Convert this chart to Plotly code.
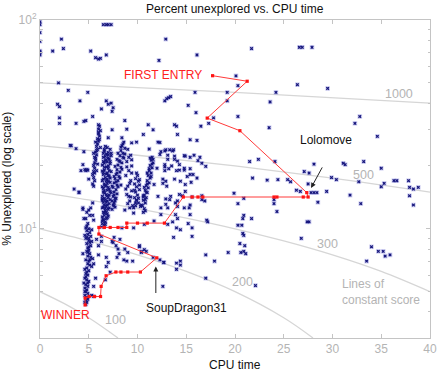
import math
import plotly.graph_objects as go

# ---------------- data ----------------
# scattered entries (CPU time, % unexplored)
sparse_cpu = [0, 0, 0, 0, 0, 0, 0, 6.5, 6.8, 7.0, 7.3, 2.2, 1.3, 2.4, 5.2, 5.7, 6.0, 6.2, 6.8,
              12.9, 12.2, 16.1, 1.9, 2.9, 4.1, 4.9, 1.8, 2.0, 2.0, 2.0, 3.7, 4.7, 5.4, 6.3,
              6.8, 7.0, 7.3, 7.5, 7.4, 6.0, 8.7, 8.9, 11.1, 12.8, 13.0, 13.2, 13.4,
              15.2, 15.9, 16.0, 14.0, 16.5, 17.3, 17.8, 19.2, 19.2,
              21.7, 26.6, 26.9, 27.9, 20.1, 20.3, 24.2, 26.4, 29.5, 23.6, 20.3, 23.5, 32.8, 32.3, 34.6,
              21.5, 22.4, 24.1, 28.1, 27.1, 27.6, 31.1, 31.3, 33.2, 35.0,
              29.9, 30.4, 32.7, 35.3, 36.3, 36.6, 37.8, 37.9, 38.3, 38.8, 35.0,
              21.8, 23.3, 24.4, 25.4, 25.7, 26.3, 26.7, 27.5, 27.8, 28.1, 28.4, 29.4, 31.8, 37.9, 19.9,
              14.6, 15.6, 16.6, 16.6, 16.9, 20.3, 20.9, 24.0, 24.0, 24.3, 28.5, 32.9, 38.3,
              27.4, 27.6, 26.8, 20.9, 20.8, 21.7, 20.3, 20.7, 20.8, 20.9, 20.5, 21.0, 20.6, 20.9, 21.1,
              19.3, 17.9, 17.0, 17.2, 15.2, 14.0, 13.7, 14.0, 14.4, 14.4, 14.0, 17.0, 22.1,
              34.0, 34.7, 35.2, 35.4, 35.9, 33.5,
              11.6, 12.3, 15.4, 16.1, 13.8, 14.9, 15.4, 16.4, 16.2, 16.6, 12.4, 12.9, 13.3, 13.7,
              12.0, 12.8, 13.2, 14.3, 14.8, 15.4, 15.4, 15.7, 14.8, 15.8, 17.0, 15.1, 16.1, 15.5, 14.9,
              14.3, 13.5, 14.0, 13.1, 12.8, 12.6, 13.0, 14.9, 13.1, 14.1, 15.4, 17.1,
              7.4, 7.8, 8.0, 8.7, 9.0, 10.2, 10.4, 10.9, 11.6, 8.1, 8.6, 12.7, 12.3, 12.6, 6.3, 7.6, 8.2,
              5.4, 6.4, 7.7, 9.1, 9.2, 9.9, 10.6, 9.6, 12.4, 12.9, 13.3, 13.9, 13.6, 14.1, 15.3, 15.4,
              15.6, 15.6, 4.5, 7.4, 10.6, 9.4, 9.9, 12.1, 13.8, 14.1, 7.0, 8.4,
              11.2, 12.3, 12.8, 13.6, 13.8, 13.1, 12.8, 14.1, 14.8, 4.4, 4.2, 5.0, 4.0,
              4.4, 5.0, 5.4, 4.5, 5.5, 8.4, 9.6, 10.7, 11.7, 13.1, 14.4,
              12.6, 12.9, 13.8, 14.4, 11.7, 12.1, 13.4, 14.3, 12.9, 14.1, 14.8, 12.4, 13.9,
              3.2, 3.7, 4.5, 3.5, 4.0, 3.1,
              6.0, 6.0, 7.5, 6.8, 7.0, 6.8, 6.7, 7.2, 7.9, 8.9, 9.5, 10.4, 10.7, 10.2, 5.8, 6.3,
              5.5, 5.7, 5.5, 12.7]
sparse_pct = [98, 95, 87, 79, 71, 70, 68, 95, 95, 95, 95, 81, 71, 73, 71, 66, 65, 65.5, 68,
              81, 64, 68, 50, 46, 41, 45, 39.5, 38.5, 34, 32, 32, 33, 34.5, 37.5,
              41, 39.5, 40, 38, 36.5, 31.5, 33, 30, 31.5, 41, 42, 42.5, 43,
              39, 45, 36, 31, 31, 32, 34, 45, 41,
              73, 74, 74, 74, 54, 48.5, 45, 49, 47, 40.5, 34.5, 30.5, 34.5, 32, 27.7,
              21, 21.5, 21, 20.4, 18.8, 18.5, 20.6, 20.3, 21, 19.5,
              17.6, 17.2, 16.8, 16.5, 17, 17, 17, 15.8, 15.5, 15.8, 15.9,
              17.5, 17.1, 17.2, 17.2, 16.8, 15.3, 15.1, 16.4, 14.9, 14.9, 14.9, 15.1, 14.5, 14.4, 14.8,
              14.4, 14.2, 14.4, 13.8, 13.6, 13.2, 14.0, 13.8, 13.2, 12.1, 13.4, 13.2, 13.0,
              10.8, 10.8, 9.0, 11.6, 11.2, 11.2, 10.4, 10.4, 9.5, 9.3, 8.5, 8.3, 7.7, 7.8, 7.6,
              7.7, 7.0, 7.5, 10.8, 10.6, 10.1, 9.1, 6.85, 7.0, 6.7, 6.4, 5.8, 5.35,
              8.2, 7.8, 7.8, 7.4, 7.5, 7.0,
              29.8, 25.9, 26.7, 26.5, 21.5, 22.3, 22.0, 22.0, 21.2, 20.6, 23.4, 23.9, 23.9, 23.9,
              19.5, 19.8, 19.4, 19.1, 19.1, 19.4, 18.2, 18.2, 22.4, 22.5, 19.9, 17.8, 17.5, 16.7, 16.3,
              20.3, 20.0, 19.0, 22.5, 19.0, 16.5, 16.0, 15.1, 12.6, 12.8, 13.0, 11.0,
              8.7, 8.3, 8.0, 8.0, 7.7, 8.2, 7.7, 7.8, 7.3, 7.6, 7.1, 6.9, 7.1, 5.3, 8.7, 9.1, 8.9,
              13.3, 13.9, 13.6, 14.3, 12.6, 13.7, 14.4, 11.9, 12.6, 13.9, 13.8, 13.3, 10.8, 11.2, 12.6, 11.7,
              10.1, 9.2, 32.7, 29.8, 28.3, 25.8, 26.0, 26.0, 31.5, 28.3, 27.3, 27.3,
              24.1, 22.7, 23.6, 23.6, 22.3, 21.5, 20.3, 21.1, 19.5, 20.3, 19.0, 17.3, 14.9,
              12.6, 12.3, 11.6, 11.2, 11.0, 10.1, 10.1, 10.5, 10.9, 10.5, 9.9,
              17.3, 16.9, 17.3, 16.9, 16.3, 14.3, 14.3, 14.6, 13.1, 13.6, 12.6, 11.7, 11.7,
              25.0, 24.2, 23.4, 15.5, 15.0, 25.1,
              8.3, 7.5, 8.6, 7.3, 6.9, 6.6, 5.7, 6.2, 7.3, 7.0, 7.0, 7.8, 7.95, 8.3, 8.9, 9.2,
              6.8, 5.8, 5.3, 6.9]

# dense cluster of entries
cluster_cpu = [5.0, 4.8, 5.1, 4.9, 5.2, 4.7, 5.0, 5.1, 4.8, 5.2, 4.9, 5.0, 4.8, 5.1, 4.9, 5.2, 4.7, 5.0,
               4.9, 5.1, 4.8, 4.6, 5.0, 4.7, 4.9, 4.6, 4.8, 5.0, 4.7, 4.9, 4.6, 4.8, 4.7, 4.9, 4.6,
               4.8, 4.7, 4.6, 4.7, 4.9, 5.3, 5.5, 4.5, 5.3, 5.4, 4.4, 5.3, 4.6, 5.3,
               4.8, 4.7, 4.4, 4.8, 5.2, 4.7, 4.9, 5.1,
               4.8, 5.0, 4.9, 5.1, 4.8, 4.7, 4.9, 4.6, 4.8, 5.0,
               6.1, 6.0, 6.2, 6.0, 6.1, 5.9, 6.0, 5.9, 5.8, 5.9, 5.7, 5.8, 5.6, 5.7, 5.6, 5.5, 5.6,
               5.5, 5.4, 5.5, 5.6, 5.4, 5.7, 6.2, 5.5, 4.6, 4.8, 4.7, 4.9,
               6.0, 6.1, 5.8, 5.7, 5.6, 5.5, 5.8, 5.9,
               6.9, 7.2, 6.6, 7.0, 6.8, 7.3, 6.5, 7.1, 6.7, 6.9, 7.2, 6.4, 6.8, 7.0, 6.6, 7.3, 6.9,
               6.5, 7.1, 6.7, 6.9, 6.4, 7.2, 6.6, 6.8, 7.0, 6.5, 6.9, 7.2, 6.6, 6.8, 6.4, 7.0, 6.7,
               6.9, 6.5, 7.1, 6.6, 6.8, 6.4, 7.0, 6.7, 6.5, 6.9, 6.6, 6.4, 6.8, 6.5, 6.7, 6.4, 6.6, 6.3,
               6.6, 7.0, 6.5, 7.1, 6.8, 6.6, 7.1, 6.8, 6.7, 6.5, 6.9, 6.6, 7.3, 6.4, 7.0,
               6.7, 6.5, 7.0, 6.8, 7.2, 6.6, 7.0, 6.4, 6.8, 7.2, 6.5, 7.0, 6.7, 7.1, 6.5, 6.9, 6.6,
               7.2, 6.4, 6.9, 6.5, 7.1, 6.8, 6.6, 6.9, 6.5, 6.7, 6.4, 7.0, 6.7,
               8.6, 8.4, 8.7, 8.3, 8.5, 8.2, 8.6, 8.1, 8.4, 8.0, 8.3, 7.9, 8.2, 7.8, 8.1, 7.7, 8.0,
               7.6, 7.9, 7.5, 7.8, 7.6, 7.9, 7.5, 7.7, 7.4, 7.6, 7.5, 7.7, 7.4, 8.2, 7.8, 8.5, 7.9, 7.6,
               8.5, 8.3, 8.0, 8.7, 7.9, 8.4, 7.7, 8.2, 7.6, 8.0, 7.4, 7.8, 7.3, 7.6, 8.3,
               9.0, 9.3, 8.9, 9.4, 9.1, 8.8, 9.3, 9.0, 9.4, 8.9, 9.2, 9.5, 8.7, 9.4, 9.1,
               8.9, 9.2, 8.8, 9.3, 9.0, 9.4,
               10.0, 9.8, 10.1, 9.7, 9.9, 10.2, 9.8, 10.0, 9.7, 9.9, 10.1, 9.8, 9.6, 10.2,
               9.9, 10.2, 9.7, 10.1, 9.8, 10.3,
               11.5, 11.4, 11.6, 11.3, 11.5, 11.2, 11.4, 11.1, 11.3, 11.0, 11.2, 10.9, 11.1, 10.8,
               11.0, 10.7, 10.9, 10.6, 10.8, 10.5, 10.7, 10.6, 11.6, 11.0, 10.8,
               11.3, 11.5, 11.2, 11.4, 11.0, 10.9, 10.7, 10.6, 10.4, 10.8]
cluster_pct = [10.0, 9.8, 9.6, 9.4, 9.2, 9.0, 8.8, 8.6, 8.5, 8.3, 8.1, 7.9, 7.8, 7.6, 7.4, 7.3, 7.1, 7.0,
               6.8, 6.7, 6.5, 6.4, 6.3, 6.1, 6.0, 5.8, 5.7, 5.6, 5.4, 5.3, 5.2, 5.1, 5.0, 4.9, 4.8,
               4.7, 4.55, 4.45, 4.35, 4.6, 4.8, 4.75, 5.5, 6.6, 7.2, 7.6, 8.7, 9.3, 9.9,
               10.3, 10.1, 12.4, 12.0, 12.6, 11.2, 10.6, 11.6,
               9.1, 8.2, 7.7, 7.1, 6.2, 5.9, 5.5, 5.0, 4.45, 9.0,
               31, 30, 29.5, 28.5, 27.8, 27, 26.3, 25.5, 24.8, 24.0, 23.3, 22.6, 22.0, 21.3, 20.7, 20.1,
               19.5, 18.8, 18.2, 17.6, 17.0, 16.4, 26.0, 24.5, 23.0, 19.2, 19.2, 19.0, 19.1,
               29.0, 26.8, 23.7, 21.8, 18.5, 16.0, 19.0, 20.4,
               24.5, 24.0, 23.6, 23.2, 22.8, 22.4, 22.0, 21.6, 21.2, 20.9, 20.5, 20.2, 19.8, 19.5, 19.1,
               18.8, 18.5, 18.2, 17.9, 17.6, 17.3, 17.0, 16.7, 16.4, 16.1, 15.8, 15.6, 15.3, 15.1, 14.8,
               14.6, 14.3, 14.1, 13.8, 13.6, 13.4, 13.2, 13.0, 12.8, 12.6, 12.4, 12.2, 12.0, 11.8, 11.6,
               11.4, 11.2, 11.0, 10.8, 10.6, 10.4, 10.2,
               24.0, 21.9, 21.0, 19.0, 17.0, 15.2, 14.5, 13.4, 12.5, 18.6, 16.5, 20.6, 23.0, 15.9, 11.5,
               24.8, 23.0, 22.6, 21.4, 21.0, 19.7, 18.0, 18.9, 18.3, 17.5, 17.3, 16.9, 16.0, 15.5, 15.0,
               14.4, 14.0, 13.8, 13.7, 13.0, 12.7, 12.6, 12.0, 11.9, 11.3, 11.1, 10.5, 10.9, 20.0, 22.2,
               26.0, 25.0, 24.3, 23.7, 23.0, 22.4, 21.8, 21.2, 20.7, 20.2, 19.7, 19.2, 18.7, 18.2, 17.8,
               17.4, 17.0, 16.6, 16.2, 15.8, 15.4, 15.0, 14.7, 14.3, 14.0, 13.6, 13.3, 13.0, 12.7, 12.4,
               21.0, 16.8, 22.0, 18.5, 14.5,
               25.5, 24.6, 23.0, 22.8, 21.5, 19.3, 19.9, 17.5, 17.8, 15.9, 16.0, 14.0, 14.9, 12.9, 16.2,
               24.0, 22.5, 21.0, 20.0, 19.0, 18.0, 17.0, 16.0, 15.2, 14.6, 13.6, 12.9, 12.3, 18.5, 22.0,
               19.8, 16.5, 15.5, 14.2, 13.2, 21.4,
               18.0, 17.4, 16.9, 16.4, 15.9, 15.4, 15.0, 14.5, 14.1, 13.7, 13.3, 12.9, 12.6, 17.2,
               18.5, 16.2, 15.3, 14.0, 13.3, 12.8,
               22.0, 21.3, 20.7, 20.1, 19.6, 19.0, 18.5, 18.0, 17.5, 17.0, 16.6, 16.1, 15.7, 15.3,
               14.9, 14.5, 14.1, 13.7, 13.3, 12.9, 12.5, 12.0, 21.5, 16.4, 13.8,
               21.8, 20.4, 19.4, 17.8, 18.5, 15.0, 15.8, 14.2, 13.0, 12.2]

# leader's progression, from first entry to the winner
best_cpu = [17.7, 21.25, 17.15, 20.5, 27.36, 27.5, 27.0, 24.3, 24.0, 16.7, 16.2, 15.6, 14.7,
            12.76, 11.0, 10.0, 8.9, 8.9, 8.0, 7.2, 6.6, 6.04, 6.04, 11.98, 10.3, 9.0, 8.3, 7.78,
            6.78, 6.27, 6.21, 5.6, 5.04, 4.63, 4.63]
best_pct = [54.1, 50.9, 33.9, 29.5, 14.9, 14.2, 14.2, 14.2, 14.2, 14.2, 14.2, 14.2, 14.2,
            10.65, 10.65, 10.65, 10.65, 10.15, 10.15, 10.15, 10.15, 10.15, 9.44, 7.26, 6.21, 6.21,
            6.21, 6.21, 5.96, 5.30, 4.74, 4.74, 4.74, 4.66, 4.32]

# lines of constant score
score_levels = ["100", "200", "300", "500", "1000"]
score_cpu = [[0, 2.5, 5, 8],
             [0, 5, 10, 15, 20, 25, 28],
             [0, 5, 10, 15, 20, 25, 30, 35, 40],
             [0, 10, 20, 30, 40],
             [0, 20, 40]]
score_pct = [[5.0, 4.38, 3.75, 3.0],
             [10, 8.75, 7.5, 6.25, 5.0, 3.75, 3.0],
             [15, 13.75, 12.5, 11.25, 10, 8.75, 7.5, 6.25, 5.0],
             [25, 22.5, 20, 17.5, 15],
             [50, 45, 40]]

x_ticks = [0, 5, 10, 15, 20, 25, 30, 35, 40]
y_ticks = [10, 100]
y_ticktext = ["10<sup>1</sup>", "10<sup>2</sup>"]
y_minor = [4, 5, 6, 7, 8, 9, 20, 30, 40, 50, 60, 70, 80, 90]

# ---------------- figure ----------------
FONT = "Liberation Sans, Arial, sans-serif"
GREY = "#b4b4b4"
AXIS = "#c4c4c4"

fig = go.Figure()
for lvl, xs, ys in zip(score_levels, score_cpu, score_pct):
    fig.add_trace(go.Scatter(x=xs, y=ys, mode="lines",
                             line=dict(color="#d6d6d6", width=1.3, shape="spline"),
                             hoverinfo="skip", showlegend=False))

all_cpu = sparse_cpu + cluster_cpu
all_pct = sparse_pct + cluster_pct
# light halo behind each cross, as in the antialiased original
fig.add_trace(go.Scatter(x=all_cpu, y=all_pct, mode="markers",
                         marker=dict(symbol="square", size=4.6, color="rgba(160,160,230,0.5)",
                                     line=dict(width=0)),
                         hoverinfo="skip", showlegend=False))
fig.add_trace(go.Scatter(x=all_cpu, y=all_pct, mode="markers",
                         marker=dict(symbol="x", size=3.0, color="#14147a", line=dict(width=0)),
                         showlegend=False))

fig.add_trace(go.Scatter(x=best_cpu, y=best_pct, mode="lines+markers",
                         line=dict(color="#ff3a3a", width=1),
                         marker=dict(symbol="square", size=3.2, color="#ff1414"),
                         showlegend=False))

fig.update_xaxes(range=[0, 40], tickvals=x_ticks, ticks="inside", ticklen=4, tickcolor=AXIS,
                 showline=True, linecolor=AXIS, linewidth=1, mirror="ticks", showgrid=False,
                 zeroline=False, tickfont=dict(family=FONT, size=12, color=GREY))
fig.update_yaxes(type="log", range=[math.log10(3), 2], tickvals=y_ticks, ticktext=y_ticktext,
                 ticks="inside", ticklen=4, tickcolor=AXIS, showline=True, linecolor=AXIS, linewidth=1,
                 mirror="ticks", showgrid=False, zeroline=False,
                 minor=dict(tickmode="array", tickvals=y_minor, ticks="inside", ticklen=2.5,
                            tickcolor=AXIS, showgrid=False),
                 tickfont=dict(family=FONT, size=12, color=GREY))

L = math.log10
ann = []


def txt(x, y, s, color, size=12, xanchor="center", xref="x", yref="y"):
    ann.append(dict(x=x, y=y, text=s, showarrow=False, xref=xref, yref=yref, xanchor=xanchor,
                    yanchor="middle", font=dict(family=FONT, size=size, color=color)))


txt(0.5, 1.035, "Percent unexplored vs. CPU time", "#111", 12, xref="paper", yref="paper")
txt(0.5, -0.085, "CPU time", "#111", 12, xref="paper", yref="paper")
ann.append(dict(x=-0.085, y=0.5, xref="paper", yref="paper", text="% Unexplored (log scale)",
                textangle=-90, showarrow=False, xanchor="center", yanchor="middle",
                font=dict(family=FONT, size=12, color="#111")))
txt(16.8, L(54.3), "FIRST ENTRY", "#ff2020", 12, xanchor="right")
txt(2.6, L(3.88), "WINNER", "#ff2020", 12)
txt(29.3, L(26.5), "Lolomove", "#111", 12)
txt(15.0, L(4.19), "SoupDragon31", "#111", 12)
txt(36.8, L(44.3), "1000", GREY, 12.5)
txt(33.2, L(18.1), "500", GREY, 12.5)
txt(29.5, L(8.47), "300", GREY, 12.5)
txt(20.8, L(5.58), "200", GREY, 12.5)
txt(7.75, L(3.67), "100", GREY, 12.5)
txt(35.0, L(5.0), "Lines of<br>constant score", GREY, 12)
ann[-1]["align"] = "left"

ann.append(dict(x=27.8, y=L(15.7), xref="x", yref="y", text="", showarrow=True, arrowhead=2,
                arrowsize=1, arrowwidth=1, arrowcolor="#222", ax=12, ay=-22))
ann.append(dict(x=11.88, y=L(6.6), xref="x", yref="y", text="", showarrow=True, arrowhead=2,
                arrowsize=1, arrowwidth=1, arrowcolor="#222", ax=0, ay=28))

fig.update_layout(width=448, height=373, margin=dict(l=40, r=11, t=20, b=35),
                  paper_bgcolor="white", plot_bgcolor="white", annotations=ann,
                  font=dict(family=FONT))

fig.write_html("out.html", config={"displayModeBar": False},
               post_script="document.body.style.margin='0px';")
